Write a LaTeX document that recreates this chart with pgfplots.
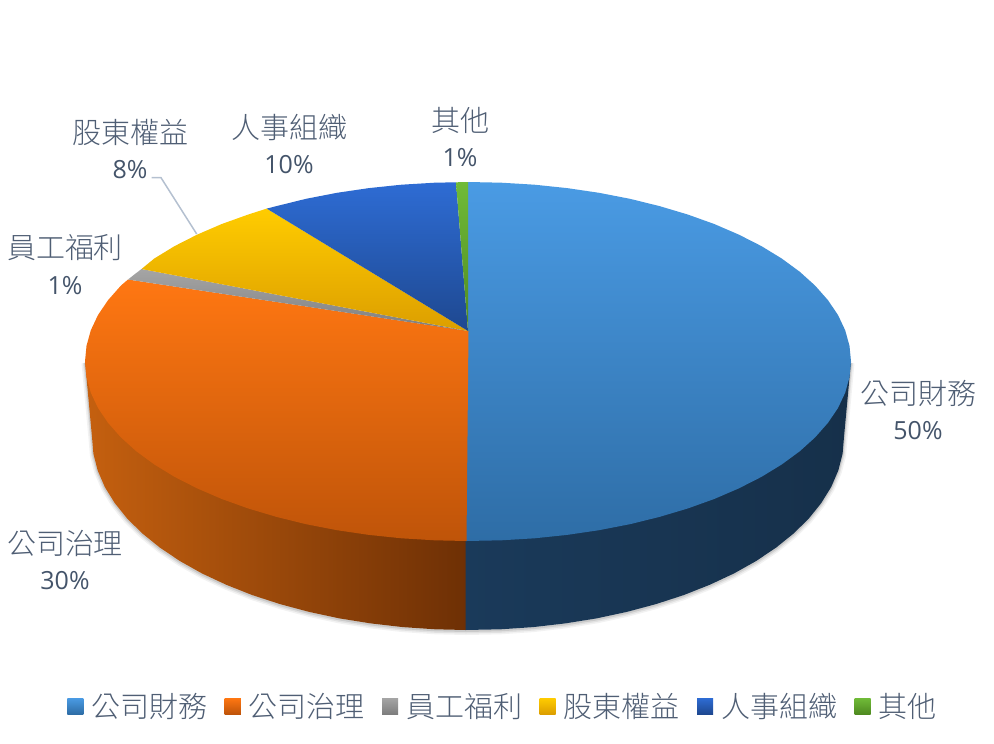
\documentclass[border=0pt]{standalone}
\usepackage{fontspec}
\usepackage{pgfplots}
\pgfplotsset{compat=1.18}
\usepackage{pgfplotstable}
\setmainfont{Noto Sans CJK TC Light}
\newfontfamily\latin{Open Sans}

\definecolor{lbl}{HTML}{4F5E74}
\definecolor{num}{HTML}{44546A}
\definecolor{leader}{HTML}{B4C0D0}
% top face, upper and lower end of each gradient
\definecolor{at}{HTML}{4A9BE4}
\definecolor{ab}{HTML}{2E6DA6}
\definecolor{bt}{HTML}{FF7712}
\definecolor{bb}{HTML}{BF5409}
\definecolor{et}{HTML}{A5A5A5}
\definecolor{eb}{HTML}{7E7E7E}
\definecolor{ft}{HTML}{FFCC00}
\definecolor{fb}{HTML}{DC9E00}
\definecolor{gt}{HTML}{2E6CD4}
\definecolor{gb}{HTML}{1E4890}
\definecolor{ht}{HTML}{70BB38}
\definecolor{hb}{HTML}{4F8A20}
% rim
\definecolor{cl}{HTML}{C5600F}
\definecolor{cm}{HTML}{944409}
\definecolor{cr}{HTML}{6E3005}
\definecolor{dl}{HTML}{1A3A5A}
\definecolor{dm}{HTML}{162B45}
\definecolor{dr}{HTML}{16304A}

% outline of the rim, left end to right end
\pgfplotstableread{
x y
85 361.5
92 437
93.4 453.8
97.7 470.5
104.8 487
114.7 503
127.2 518.6
142.4 533.5
160 547.7
180 561.1
202.1 573.5
226.3 584.8
252.3 595.1
280 604.1
309.1 611.9
339.4 618.4
370.7 623.4
402.7 627.1
435.2 629.3
466 630
500.8 629.3
533.3 627.1
565.3 623.4
596.6 618.4
626.9 611.9
656 604.1
683.7 595.1
709.7 584.8
733.9 573.5
756 561.1
776 547.7
793.6 533.5
808.8 518.6
821.3 503
831.2 487
838.3 470.5
842.6 453.8
844 437
851 361.5
}\rimoutline

\newcommand{\lab}[4]{%
  \node[font=\fontsize{29}{29}\selectfont, text=lbl] at (axis cs:#1,#2) {#3};
  \node[font=\fontsize{25}{25}\selectfont\latin, text=num] at (axis cs:#1,#2+38) {#4};
}

\begin{document}
\begin{tikzpicture}
\useasboundingbox (0,0) rectangle (994pt,744pt);
\begin{axis}[
  scale only axis, width=994pt, height=744pt,
  xmin=0, xmax=994, ymin=0, ymax=744, y dir=reverse,
  axis lines=none, enlargelimits=false,
  legend columns=6,
  legend style={at={(axis cs:502,706)}, anchor=center, draw=none, fill=none,
    font=\fontsize{29}{29}\selectfont, text=lbl,
    inner xsep=0pt, inner ysep=0pt,
    nodes={inner xsep=0pt},
    /tikz/every odd column/.append style={column sep=8pt},
    /tikz/every even column/.append style={column sep=17.5pt}},
  legend image code/.code={\path[#1] (0pt,-8pt) rectangle (16pt,8pt);},
]
% soft shadow under the rim
\addplot[forget plot, draw=black, opacity=.05, line width=7pt, line join=round, yshift=-1.5pt] table[x=x,y=y] {\rimoutline};
\addplot[forget plot, draw=black, opacity=.07, line width=4pt, line join=round, yshift=-1.5pt] table[x=x,y=y] {\rimoutline};
\addplot[forget plot, draw=black, opacity=.10, line width=2pt, line join=round, yshift=-1pt] table[x=x,y=y] {\rimoutline};

% rim, left part
\addplot[forget plot, draw=none, left color=cl, middle color=cm, right color=cr] coordinates {
(85,361.5) (92,437) (93.4,453.8) (97.7,470.5) (104.8,487) (114.7,503) (127.2,518.6) (142.4,533.5)
(160,547.7) (180,561.1) (202.1,573.5) (226.3,584.8) (252.3,595.1) (280,604.1) (309.1,611.9)
(339.4,618.4) (370.7,623.4) (402.7,627.1) (435.2,629.3) (466,630) (466,400) (85,361.5)};
% rim, right part
\addplot[forget plot, draw=none, left color=dl, middle color=dm, right color=dr] coordinates {
(465.5,400) (465.5,630) (500.8,629.3) (533.3,627.1) (565.3,623.4) (596.6,618.4) (626.9,611.9) (656,604.1)
(683.7,595.1) (709.7,584.8) (733.9,573.5) (756,561.1) (776,547.7) (793.6,533.5) (808.8,518.6)
(821.3,503) (831.2,487) (838.3,470.5) (842.6,453.8) (844,437) (851,361.5) (465.5,400)};

% top face: 50, 30, 1, 8, 10, 1
\addplot[draw=none, top color=at, bottom color=ab] coordinates {
(468,331) (468,182) (501.4,182.7) (534.5,184.7) (567.1,188.1) (599,192.8) (629.9,198.8) (659.5,206.1)
(687.7,214.5) (714.2,224) (738.8,234.6) (761.4,246.1) (781.7,258.5) (799.7,271.7) (815.1,285.6)
(827.9,300.1) (838,315) (845.2,330.3) (849.5,345.9) (851,361.5) (849.5,377.1) (845.2,392.7)
(838,408) (827.9,422.9) (815.1,437.4) (799.7,451.3) (781.7,464.5) (761.4,476.9) (738.8,488.4)
(714.2,499) (687.7,508.5) (659.5,516.9) (629.9,524.2) (599,530.2) (567.1,534.9) (534.5,538.3)
(501.4,540.3) (466,541) (468,331)};
\addlegendentry{公司財務}
\addplot[draw=none, top color=bt, bottom color=bb] coordinates {
(468.5,331) (466.5,541) (434.6,540.3) (401.5,538.3) (368.9,534.9) (337,530.2) (306.1,524.2) (276.5,516.9)
(248.3,508.5) (221.8,499) (197.2,488.4) (174.6,476.9) (154.3,464.5) (136.3,451.3) (120.9,437.4)
(108.1,422.9) (98,408) (90.8,392.7) (86.5,377.1) (85,361.5) (86.5,345.9) (90.8,330.3) (98,315)
(108.1,300.1) (120.9,285.6) (128,279.5) (468.5,331)};
\addlegendentry{公司治理}
\addplot[draw=none, top color=et, bottom color=eb] coordinates {
(468,331) (128,279.5) (135,274) (141.5,269) (468,331)};
\addlegendentry{員工福利}
\addplot[draw=none, top color=ft, bottom color=fb] coordinates {
(468,331) (141.5,269) (154.3,258.5) (174.6,246.1) (197.2,234.6) (221.8,224) (248.3,214.5) (266.7,208.6) (468,331)};
\addlegendentry{股東權益}
\addplot[draw=none, top color=gt, bottom color=gb] coordinates {
(468,331) (266.7,208.6) (276.5,206.1) (306.1,198.8) (337,192.8) (368.9,188.1) (401.5,184.7) (434.6,182.7) (456,182.3) (468,331)};
\addlegendentry{人事組織}
\addplot[draw=none, top color=ht, bottom color=hb] coordinates {
(468,331) (456,182.3) (468,182) (468,331)};
\addlegendentry{其他}

% leader line of 股東權益
\addplot[forget plot, draw=leader, line width=1.5pt] coordinates {(151.7,177.7) (161,177.7) (196.7,234)};

\lab{918}{393}{公司財務}{50\%}
\lab{65}{543}{公司治理}{30\%}
\lab{65}{248}{員工福利}{1\%}
\lab{130}{132}{股東權益}{8\%}
\lab{289}{127}{人事組織}{10\%}
\lab{460}{120}{其他}{1\%}
\end{axis}
\end{tikzpicture}
\end{document}
